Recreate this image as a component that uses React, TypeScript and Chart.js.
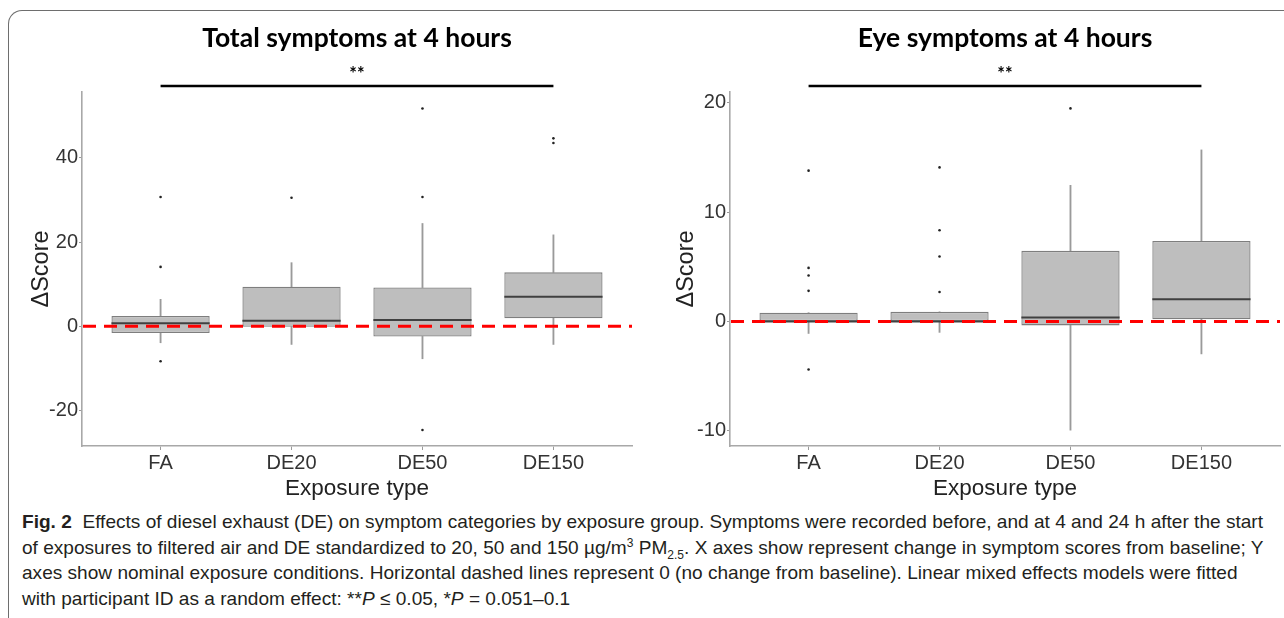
import React, { useEffect, useRef } from 'react';
import { Chart, registerables } from 'chart.js';

Chart.register(...registerables);

// ---------- data ----------
const categories = ['FA', 'DE20', 'DE50', 'DE150'];

// Total symptoms at 4 hours
const totalTitle = 'Total symptoms at 4 hours';
const totalQ1 = [-1.6, -0.1, -2.4, 1.9];
const totalMedian = [0.7, 1.3, 1.5, 7.0];
const totalQ3 = [2.45, 9.4, 9.2, 12.8];
const totalWhiskerLow = [-3.9, -4.3, -7.7, -4.3];
const totalWhiskerHigh = [6.4, 15.1, 24.4, 21.7];
const totalOutliers = [
  [30.7, 14.1, -8.3],
  [30.5],
  [51.7, 30.7, -24.6],
  [44.6, 43.5],
];
const totalTicks = [-20, 0, 20, 40];
const totalYMin = -28.4;
const totalYMax = 55.6;

// Eye symptoms at 4 hours
const eyeTitle = 'Eye symptoms at 4 hours';
const eyeQ1 = [0, 0, -0.36, 0.2];
const eyeMedian = [0, 0, 0.36, 2.03];
const eyeQ3 = [0.8, 0.88, 6.46, 7.37];
const eyeWhiskerLow = [-1.1, -1.0, -9.95, -2.97];
const eyeWhiskerHigh = [0.8, 0.88, 12.46, 15.7];
const eyeOutliers = [
  [13.8, 4.9, 4.2, 2.8, -4.4],
  [14.1, 8.35, 5.95, 2.7],
  [19.5],
  [],
];
const eyeTicks = [-10, 0, 10, 20];
const eyeYMin = -11.4;
const eyeYMax = 21.0;

const sigFrom = 0; // FA
const sigTo = 3; // DE150
const sigLabel = '**';
const referenceValue = 0;

const xTitle = 'Exposure type';
const yTitle = 'ΔScore';

// ---------- panel ----------
type PanelProps = {
  title: string;
  q1: number[];
  median: number[];
  q3: number[];
  wLow: number[];
  wHigh: number[];
  outliers: number[][];
  ticks: number[];
  yMin: number;
  yMax: number;
  left: number;
  width: number;
  padLeft: number;
  padRight: number;
  axisWidth: number;
  yTitlePad: number;
};

const TICK_FONT = { family: '"Liberation Sans", Arial, sans-serif', size: 20 };
const AXIS_TITLE_FONT = { family: '"Liberation Sans", Arial, sans-serif', size: 22.5 };

function Panel(p: PanelProps) {
  const ref = useRef<HTMLCanvasElement | null>(null);
  useEffect(() => {
    if (!ref.current) return;
    const boxData = categories.map((_, i) => ({ x: i, y: [p.q1[i], p.q3[i]] }));
    const lowData = categories.map((_, i) => ({ x: i, y: [p.wLow[i], p.q1[i]] }));
    const highData = categories.map((_, i) => ({ x: i, y: [p.q3[i], p.wHigh[i]] }));
    const outData: { x: number; y: number }[] = [];
    p.outliers.forEach((arr, i) => arr.forEach((v) => outData.push({ x: i, y: v })));

    const extras = {
      id: 'boxExtras',
      afterDatasetsDraw(chart: any) {
        const { ctx, chartArea, scales } = chart;
        const y = scales.y;
        const meta = chart.getDatasetMeta(1);
        ctx.save();
        // medians
        meta.data.forEach((bar: any, i: number) => {
          const half = bar.width / 2;
          const py = y.getPixelForValue(p.median[i]);
          ctx.strokeStyle = '#404040';
          ctx.lineWidth = 2;
          ctx.beginPath();
          ctx.moveTo(bar.x - half, py);
          ctx.lineTo(bar.x + half, py);
          ctx.stroke();
        });
        // reference dashed line
        const y0 = y.getPixelForValue(referenceValue);
        ctx.strokeStyle = '#FF0000';
        ctx.lineWidth = 3;
        ctx.setLineDash([13, 8]);
        ctx.beginPath();
        ctx.moveTo(chartArea.left + 1, y0);
        ctx.lineTo(chartArea.right, y0);
        ctx.stroke();
        ctx.restore();
      },
      afterDraw(chart: any) {
        const { ctx, chartArea, scales } = chart;
        const x = scales.x;
        ctx.save();
        ctx.fillStyle = '#000';
        ctx.textAlign = 'center';
        ctx.textBaseline = 'middle';
        ctx.font = 'bold 26.5px Lato, "Open Sans", sans-serif';
        ctx.fillText(p.title, (chartArea.left + chartArea.right) / 2, 38);
        const x1 = x.getPixelForValue(sigFrom);
        const x2 = x.getPixelForValue(sigTo);
        ctx.font = 'bold 18px Lato, sans-serif';
        ctx.fillText(sigLabel, (x1 + x2) / 2, 74);
        ctx.strokeStyle = '#000';
        ctx.lineWidth = 2.5;
        ctx.beginPath();
        ctx.moveTo(x1, 86);
        ctx.lineTo(x2, 86);
        ctx.stroke();
        ctx.restore();
      },
    };

    const chart = new Chart(ref.current, {
      type: 'bar',
      data: {
        datasets: [
          {
            type: 'line',
            data: outData,
            showLine: false,
            pointRadius: 1.3,
            pointBackgroundColor: '#222',
            pointBorderWidth: 0,
            order: 0,
          } as any,
          {
            type: 'bar',
            data: boxData,
            backgroundColor: '#BEBEBE',
            borderColor: '#7E7E7E',
            borderWidth: 1.3,
            borderSkipped: false,
            grouped: false,
            barPercentage: 0.75,
            categoryPercentage: 1,
            order: 1,
          } as any,
          {
            type: 'bar',
            data: lowData,
            backgroundColor: '#9A9A9A',
            borderWidth: 0,
            grouped: false,
            barThickness: 1.2,
            order: 2,
          } as any,
          {
            type: 'bar',
            data: highData,
            backgroundColor: '#9A9A9A',
            borderWidth: 0,
            grouped: false,
            barThickness: 1.2,
            order: 2,
          } as any,
        ],
      },
      options: {
        animation: false,
        responsive: false,
        devicePixelRatio: 1,
        layout: { padding: { top: 92, left: p.padLeft, right: p.padRight, bottom: 0 } },
        plugins: {
          legend: { display: false },
          tooltip: { enabled: false },
          title: { display: false },
        },
        scales: {
          x: {
            type: 'linear',
            min: -0.6,
            max: 3.6,
            offset: false,
            afterBuildTicks: (s: any) => {
              s.ticks = categories.map((_, i) => ({ value: i }));
            },
            afterFit: (s: any) => {
              s.height = 505 - 446;
            },
            ticks: {
              callback: (v: any) => categories[v as number],
              font: TICK_FONT,
              color: '#333',
              padding: 1,
              autoSkip: false,
              maxRotation: 0,
            },
            grid: { display: true, drawOnChartArea: false, drawTicks: true, tickLength: 4, color: '#9A9A9A', offset: false },
            border: { display: true, color: '#A8A8A8', width: 1.6 },
            title: {
              display: true,
              text: xTitle,
              font: AXIS_TITLE_FONT,
              color: '#222',
              padding: { top: 0, bottom: 3 },
            },
          },
          y: {
            type: 'linear',
            min: p.yMin,
            max: p.yMax,
            afterBuildTicks: (s: any) => {
              s.ticks = p.ticks.map((v) => ({ value: v }));
            },
            afterFit: (s: any) => {
              s.width = p.axisWidth;
            },
            ticks: { font: TICK_FONT, color: '#333', padding: 1 },
            grid: { display: true, drawOnChartArea: false, drawTicks: true, tickLength: 3, color: '#9A9A9A' },
            border: { display: true, color: '#A8A8A8', width: 1.6 },
            title: {
              display: true,
              text: yTitle,
              font: { family: '"Liberation Sans", Arial, sans-serif', size: 23.5 },
              color: '#222',
              padding: { top: p.yTitlePad, bottom: 0 },
            },
          },
        },
      },
      plugins: [extras],
    } as any);
    return () => chart.destroy();
  }, []);
  return (
    <canvas
      ref={ref}
      width={p.width}
      height={505}
      style={{ position: 'absolute', left: p.left, top: 0, width: p.width, height: 505 }}
    />
  );
}

function Caption() {
  const ref = useRef<HTMLDivElement | null>(null);
  const firstRef = useRef<HTMLSpanElement | null>(null);
  useEffect(() => {
    if (!ref.current || !firstRef.current) return;
    const w = firstRef.current.getBoundingClientRect().width;
    const k = 1241 / w;
    ref.current.style.transform = `scaleX(${k})`;
  }, []);
  const line: React.CSSProperties = { whiteSpace: 'nowrap', height: 25.5, lineHeight: '25.5px' };
  return (
    <div
      ref={ref}
      style={{
        position: 'absolute',
        left: 22,
        top: 509,
        transformOrigin: '0 0',
        fontFamily: '"Liberation Sans Narrow", "Liberation Sans", Arial, sans-serif',
        fontSize: 19,
        color: '#231F20',
      }}
    >
      <div style={line}>
        <span ref={firstRef}>
          <b>Fig. 2</b>&nbsp; Effects of diesel exhaust (DE) on symptom categories by exposure group. Symptoms were recorded before, and at 4 and 24 h after the start
        </span>
      </div>
      <div style={line}>
        of exposures to filtered air and DE standardized to 20, 50 and 150 µg/m<sup style={{ fontSize: 12, lineHeight: 0 }}>3</sup> PM
        <sub style={{ fontSize: 12, lineHeight: 0 }}>2.5</sub>. X axes show represent change in symptom scores from baseline; Y
      </div>
      <div style={line}>
        axes show nominal exposure conditions. Horizontal dashed lines represent 0 (no change from baseline). Linear mixed effects models were fitted
      </div>
      <div style={line}>
        with participant ID as a random effect: **<i>P</i> ≤ 0.05, *<i>P</i> = 0.051–0.1
      </div>
    </div>
  );
}

export default function App() {
  return (
    <div
      style={{
        position: 'absolute',
        left: 0,
        top: 0,
        width: 1284,
        height: 618,
        background: '#fff',
        overflow: 'hidden',
      }}
    >
      <div
        style={{
          position: 'absolute',
          left: 8,
          top: 10,
          width: 1400,
          height: 800,
          borderLeft: '1.6px solid #6E6E6E',
          borderTop: '1.6px solid #6E6E6E',
          borderTopLeftRadius: 14,
        }}
      />
      <Panel
        title={totalTitle}
        q1={totalQ1}
        median={totalMedian}
        q3={totalQ3}
        wLow={totalWhiskerLow}
        wHigh={totalWhiskerHigh}
        outliers={totalOutliers}
        ticks={totalTicks}
        yMin={totalYMin}
        yMax={totalYMax}
        left={0}
        width={642}
        padLeft={10}
        padRight={10}
        axisWidth={72}
        yTitlePad={17}
      />
      <Panel
        title={eyeTitle}
        q1={eyeQ1}
        median={eyeMedian}
        q3={eyeQ3}
        wLow={eyeWhiskerLow}
        wHigh={eyeWhiskerHigh}
        outliers={eyeOutliers}
        ticks={eyeTicks}
        yMin={eyeYMin}
        yMax={eyeYMax}
        left={642}
        width={642}
        padLeft={10}
        padRight={4}
        axisWidth={78}
        yTitlePad={20}
      />
      <Caption />
    </div>
  );
}
